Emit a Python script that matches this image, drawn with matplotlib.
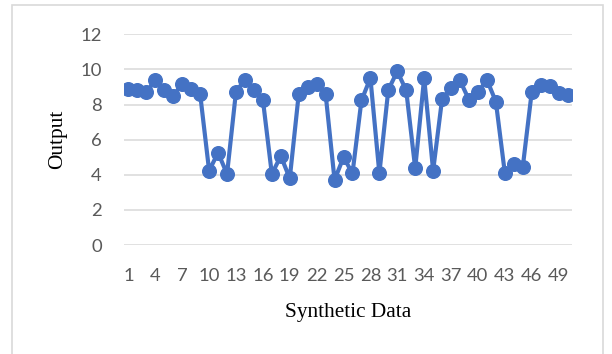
import matplotlib
matplotlib.use("Agg")
import matplotlib.pyplot as plt
from matplotlib.patches import Rectangle

# values
x = list(range(1, 51))
output = [8.88, 8.80, 8.69, 9.41, 8.80, 8.50, 9.18, 8.88, 8.59, 4.23,
          5.26, 4.04, 8.74, 9.41, 8.84, 8.27, 4.04, 5.07, 3.79, 8.59,
          8.99, 9.18, 8.61, 3.70, 5.00, 4.08, 8.23, 9.51, 4.08, 8.84,
          9.89, 8.80, 4.36, 9.51, 4.23, 8.31, 8.93, 9.37, 8.27, 8.69,
          9.41, 8.17, 4.12, 4.61, 4.42, 8.69, 9.13, 9.03, 8.65, 8.55]
xticks = list(range(1, 50, 3))
yticks = [0, 2, 4, 6, 8, 10, 12]

fig = plt.figure(figsize=(6.12, 3.54), dpi=100)
fig.patch.set_facecolor("white")

# light chart border like the Excel chart area
fig.add_artist(Rectangle((12 / 612, -0.05), (603 - 12) / 612, 1.05 - 5 / 354,
                         transform=fig.transFigure, fill=False,
                         edgecolor="#D9D9D9", linewidth=1.2))

ax = fig.add_axes([124 / 612, 1 - 245 / 354, 448 / 612, 210.7 / 354])
ax.plot(x, output, color="#4472C4", linewidth=3, marker="o", markersize=9.8,
        zorder=3)

ax.set_xlim(0.5, 50.5)
ax.set_ylim(0, 12)
ax.set_xticks(xticks)
ax.set_yticks(yticks)
ax.grid(axis="y", color="#D9D9D9", linewidth=1.1)
ax.set_axisbelow(True)
for s in ax.spines.values():
    s.set_visible(False)

ax.tick_params(length=0, labelsize=13.3, labelcolor="#595959")
ax.tick_params(axis="x", pad=16.5)
ax.tick_params(axis="y", pad=16)
for lab in ax.get_xticklabels() + ax.get_yticklabels():
    lab.set_family("Lato")

ax.set_xlabel("Synthetic Data", family="Liberation Serif", fontsize=15.3,
              color="black", va="center")
ax.set_ylabel("Output", family="Liberation Serif", fontsize=15.3,
              color="black", va="center")
ax.xaxis.set_label_coords(0.5, (245 - 312) / 210.7)
ax.yaxis.set_label_coords((58 - 124) / 448, 0.5)

fig.savefig("out.png", dpi=100)
